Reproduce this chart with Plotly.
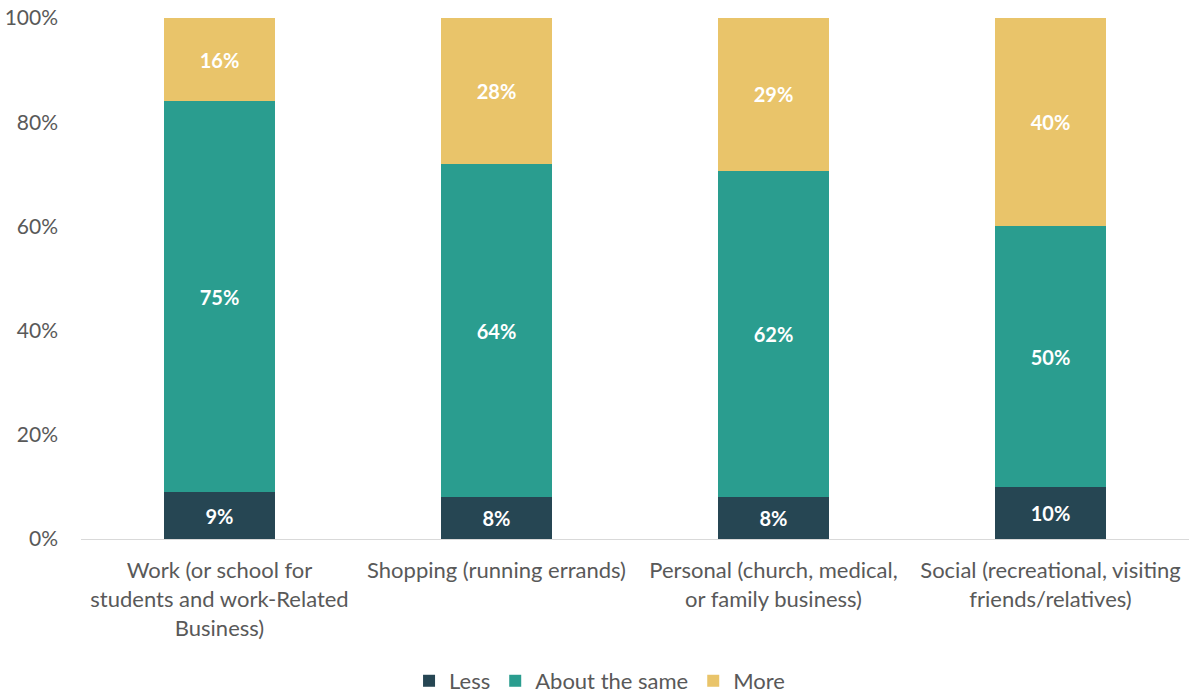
import plotly.graph_objects as go

categories = [
    "Work (or school for<br>students and work-Related<br>Business)",
    "Shopping (running errands)",
    "Personal (church, medical,<br>or family business)",
    "Social (recreational, visiting<br>friends/relatives)",
]
less = [9, 8, 8, 10]
about_same = [75, 64, 62, 50]
more = [16, 28, 29, 40]

series = [
    ("Less", less, "#264653"),
    ("About the same", about_same, "#2A9D8F"),
    ("More", more, "#E9C46A"),
]

FONT = "Lato, 'Open Sans', sans-serif"

fig = go.Figure()
for name, vals, color in series:
    fig.add_trace(go.Bar(
        x=categories,
        y=vals,
        name=name,
        marker=dict(color=color, line=dict(width=0)),
        text=[f"{v}%" for v in vals],
        textposition="inside",
        insidetextanchor="middle",
        textangle=0,
        textfont=dict(color="white", size=20, family=FONT, weight="bold"),
        hoverinfo="skip",
    ))

fig.update_layout(
    barmode="stack",
    barnorm="percent",
    bargap=0.6,
    width=1193,
    height=696,
    margin=dict(l=81, r=4, t=18, b=157, autoexpand=False),
    plot_bgcolor="white",
    paper_bgcolor="white",
    font=dict(family=FONT, size=21, color="#595959"),
    uniformtext=dict(minsize=20, mode="show"),
    legend=dict(
        orientation="h",
        x=0.468, xanchor="center",
        yref="container",
        y=0.0216, yanchor="middle",
        font=dict(size=22, color="#595959"),
        traceorder="normal",
        itemwidth=30,
    ),
    xaxis=dict(
        showline=True, linecolor="#D9D9D9", linewidth=1,
        ticks="", showgrid=False, automargin=False,
        tickfont=dict(size=22, color="#595959"),
        ticklabelstandoff=12,
    ),
    yaxis=dict(
        range=[0, 100],
        tickvals=[0, 20, 40, 60, 80, 100],
        ticktext=["0%", "20%", "40%", "60%", "80%", "100%"],
        showgrid=False, zeroline=False, showline=False, automargin=False,
        tickfont=dict(size=21, color="#595959"),
        ticklabelstandoff=22,
    ),
)

fig.write_html("out.html")
